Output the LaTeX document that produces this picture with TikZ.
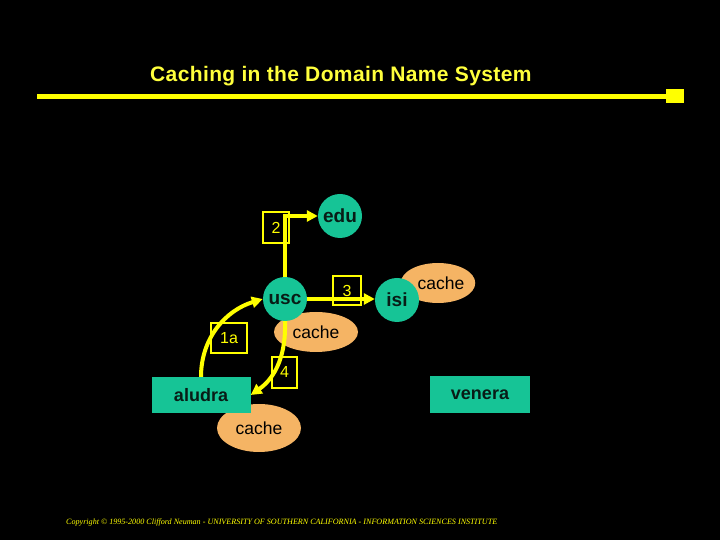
\documentclass[tikz,border=0pt]{standalone}
\usepackage{fontspec}
\setmainfont{Liberation Sans}
\newfontfamily\copyfont{Liberation Serif}
\usetikzlibrary{arrows.meta,shapes.geometric}
\definecolor{bg}{RGB}{0,0,0}
\definecolor{teal}{RGB}{22,196,150}
\definecolor{cacheor}{RGB}{245,180,100}
\definecolor{yel}{RGB}{255,255,0}
\definecolor{titleyel}{RGB}{255,255,60}
\definecolor{darktxt}{RGB}{8,28,22}
\tikzset{
  srv/.style={circle,fill=teal,inner sep=0pt,minimum size=44pt,text=darktxt,
    font=\fontsize{19}{21}\selectfont\bfseries},
  host/.style={rectangle,fill=teal,inner sep=0pt,text=darktxt,
    font=\fontsize{18}{20}\selectfont\bfseries},
  cachebox/.style={ellipse,fill=cacheor,inner sep=0pt,text=black,
    font=\fontsize{17.5}{19}\selectfont},
  stepbox/.style={rectangle,draw=yel,line width=1.5pt,inner sep=0pt,text=yel,
    font=\fontsize{16}{18}\selectfont},
  flow/.style={draw=yel,line width=4pt,-{Triangle[length=11pt,width=11pt]}},
}
\begin{document}
\begin{tikzpicture}[x=1pt,y=1pt]
\fill[bg] (0,0) rectangle (720,540);
\useasboundingbox (0,0) rectangle (720,540);
% title
\node[anchor=west,inner sep=0pt,text=titleyel,font=\fontsize{21}{24}\selectfont\bfseries\addfontfeature{LetterSpace=1.8}] (title) at (150,464) {Caching in the Domain Name System};
\coordinate (ls) at (37,443);
\coordinate (le) at (666,443);
\draw[yel,line width=5pt] (ls) -- (le);
\node[fill=yel,inner sep=0pt,minimum width=18pt,minimum height=14pt,anchor=west] (sq) at (666,444) {};
% caches (behind)
\node[cachebox,minimum width=84pt,minimum height=40pt] (usccache) at (316,208) {cache};
\node[cachebox,minimum width=66pt,minimum height=40pt] (isicache) at (438,257) {\hspace*{6pt}cache};
\node[cachebox,minimum width=84pt,minimum height=48pt] (aludracache) at (259,112) {cache};
% servers
\node[srv] (edu) at (340,324) {edu};
\node[srv] (usc) at (285,241) {usc};
\node[srv] (isi) at (397,240) {isi};
\node[host,minimum width=99pt,minimum height=36pt] (aludra) at (201,145) {aludra};
\node[host,minimum width=100pt,minimum height=37pt] (venera) at (480,145) {venera};
% flows
\draw[flow] (usc.north) |- (edu.west);
\draw[flow] (usc.east) -- (usc.east -| isi.west);
\draw[flow] (aludra.north) to[out=90,in=197] (usc.west);
\draw[flow] (usc.south) to[out=-88,in=35] (aludra.east);
% step labels
\node[stepbox,minimum width=26pt,minimum height=31pt] (s2) at (276,312.5) {2};
\node[stepbox,minimum width=28pt,minimum height=29pt] (s3) at (347,249.5) {3};
\node[stepbox,minimum width=36pt,minimum height=30pt] (s1a) at (229,202) {1a};
\node[stepbox,minimum width=25pt,minimum height=31pt] (s4) at (284.5,167.5) {4};
% copyright
\node[anchor=west,inner sep=0pt,text=yel,font=\copyfont\itshape\fontsize{8.1}{9}\selectfont] (copy) at (66,17) {Copyright \textcopyright{} 1995-2000 Clifford Neuman - UNIVERSITY OF SOUTHERN CALIFORNIA - INFORMATION SCIENCES INSTITUTE};
\end{tikzpicture}
\end{document}
